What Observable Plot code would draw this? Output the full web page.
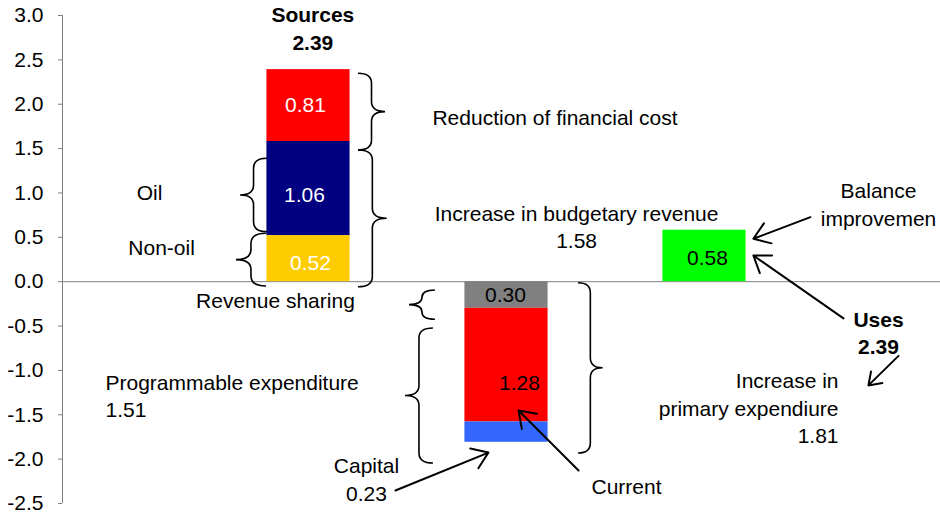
<!DOCTYPE html>
<html><head><meta charset="utf-8">
<script src="https://cdn.jsdelivr.net/npm/d3@7"></script>
<script src="https://cdn.jsdelivr.net/npm/@observablehq/plot@0.6"></script>
<style>
html,body{margin:0;padding:0;background:#fff;overflow:hidden}
#chart svg g[aria-label^="y-axis"] line,#chart svg g[aria-label^="y-axis"] path{stroke:#808080}
</style></head><body><div id="chart"></div>
<script>
// ---- data ----
const categories = ["Sources", "Uses", "Balance"];
const sourcesParts = ["Non-oil", "Oil", "Reduction of financial cost"];
const sourcesValues = [0.52, 1.06, 0.81];
const usesParts = ["Revenue sharing", "Current", "Capital"];
const usesValues = [0.30, 1.28, 0.23];
const balanceParts = ["Balance improvement"];
const balanceValues = [0.58];
const sourcesTotal = 2.39;
const usesTotal = 2.39;
const budgetaryRevenue = 1.58;
const programmableExp = 1.51;
const primaryExp = 1.81;
const yTicks = [3.0, 2.5, 2.0, 1.5, 1.0, 0.5, 0.0, -0.5, -1.0, -1.5, -2.0, -2.5];

// ---- styles ----
const partColors = {
  "Non-oil": "#FFCC00", "Oil": "#000080", "Reduction of financial cost": "#FF0000",
  "Revenue sharing": "#808080", "Current": "#FF0000", "Capital": "#3366FF",
  "Balance improvement": "#00FF00"
};
const labelColors = {"Sources": "white", "Uses": "black", "Balance": "black"};
// label nudges in pixels [dx, dy]; Capital has no in-bar label
const labelNudge = {
  "Non-oil": [2, 5], "Oil": [-4, 7], "Reduction of financial cost": [-3, 0],
  "Revenue sharing": [-1, 0], "Current": [13, 18], "Balance improvement": [3, 2]
};

// ---- build stacked rows ----
function stack(cat, parts, values, sign) {
  let acc = 0;
  return parts.map((p, i) => {
    const y1 = acc; acc += sign * values[i];
    return {cat, pos: categories.indexOf(cat) + 1, part: p, value: values[i], y1, y2: acc};
  });
}
const rows = [
  ...stack("Sources", sourcesParts, sourcesValues, 1),
  ...stack("Uses", usesParts, usesValues, -1),
  ...stack("Balance", balanceParts, balanceValues, 1)
];
const halfBar = 0.21;
const labelled = rows.filter(d => d.part in labelNudge);

// ---- annotations (positions in data units) ----
const notes = [
  {text: `Reduction of financial cost`, x: 1.626, y: 1.839, anchor: "start"},
  {text: `Increase in budgetary revenue\n${budgetaryRevenue.toFixed(2)}`, x: 2.354, y: 0.607, anchor: "middle"},
  {text: "Oil", x: 0.197, y: 0.994, anchor: "middle"},
  {text: "Non-oil", x: 0.258, y: 0.374, anchor: "middle"},
  {text: "Revenue sharing", x: 0.833, y: -0.223, anchor: "middle"},
  {text: `Programmable expenditure\n${programmableExp.toFixed(2)}`, x: -0.0253, y: -1.299, anchor: "start"},
  {text: `Capital\n${usesValues[2].toFixed(2)}`, x: 1.293, y: -2.238, anchor: "middle"},
  {text: "Current", x: 2.606, y: -2.319, anchor: "middle"},
  {text: "Balance\nimprovemen", x: 3.879, y: 0.861, anchor: "middle"},
  {text: `Increase in\nprimary expendiure\n${primaryExp.toFixed(2)}`, x: 3.677, y: -1.435, anchor: "end"}
];
const boldNotes = [
  {text: `Sources\n${sourcesTotal.toFixed(2)}`, x: 1.022, y: 2.844},
  {text: `Uses\n${usesTotal.toFixed(2)}`, x: 3.879, y: -0.587}
];
const braces = [
  {base: 1.2525, tip: 1.389, top: 2.343, bottom: 1.479},
  {base: 1.2525, tip: 1.3975, top: 1.479, bottom: -0.062},
  {base: 0.793, tip: 0.657, top: 1.385, bottom: 0.558},
  {base: 0.788, tip: 0.636, top: 0.540, bottom: -0.054},
  {base: 1.641, tip: 1.510, top: -0.099, bottom: -0.429},
  {base: 1.631, tip: 1.490, top: -0.527, bottom: -2.049},
  {base: 2.364, tip: 2.488, top: -0.017, bottom: -1.936}
];
const arrows = [
  {x1: 3.535, y1: 0.727, x2: 3.247, y2: 0.484},
  {x1: 3.702, y1: -0.414, x2: 3.247, y2: 0.295},
  {x1: 3.980, y1: -0.836, x2: 3.828, y2: -1.169},
  {x1: 1.439, y1: -2.353, x2: 1.909, y2: -1.926},
  {x1: 2.364, y1: -2.128, x2: 2.061, y2: -1.452}
];

function braceMark(list) {
  return (index, scales) => {
    const {x, y} = scales;
    const g = d3.create("svg:g").attr("fill", "none").attr("stroke", "black").attr("stroke-width", 1.6);
    for (const b of list) {
      const x0 = x(b.base), x1 = x(b.tip), yT = y(b.top), yB = y(b.bottom);
      const yM = (yT + yB) / 2, xm = (x0 + x1) / 2;
      const r = Math.min(10, (yB - yT) / 4);
      g.append("path").attr("d",
        `M${x0},${yT}Q${xm},${yT} ${xm},${yT + r}L${xm},${yM - r}Q${xm},${yM} ${x1},${yM}` +
        `Q${xm},${yM} ${xm},${yM + r}L${xm},${yB - r}Q${xm},${yB} ${x0},${yB}`);
    }
    return g.node();
  };
}

const FS = 21, LH = 1.31, NOTE_DY = -2;
const font = "Liberation Sans, Arial, Helvetica, sans-serif";
const chart = Plot.plot({
  width: 940, height: 514,
  marginLeft: 62, marginRight: 0, marginTop: 15, marginBottom: 11,
  style: {fontFamily: font, fontSize: FS + "px", color: "black", background: "white", overflow: "hidden"},
  x: {domain: [-0.2424, 4.192], axis: null},
  y: {domain: [-2.5, 3], ticks: yTicks, tickFormat: d => d.toFixed(1), tickSize: 4, tickPadding: 15, label: null},
  marks: [
    Plot.ruleY([0], {stroke: "#808080", strokeWidth: 1}),
    Plot.ruleX([-0.2424], {stroke: "#808080", strokeWidth: 1}),
    Plot.rectY(rows, {x1: d => d.pos - halfBar, x2: d => d.pos + halfBar, y1: "y1", y2: "y2",
      fill: d => partColors[d.part]}),
    ...labelled.map(d => Plot.text([d], {x: "pos", y: r => (r.y1 + r.y2) / 2, text: r => r.value.toFixed(2),
      fill: labelColors[d.cat], fontSize: FS, dx: labelNudge[d.part][0], dy: labelNudge[d.part][1]})),
    braceMark(braces),
    Plot.arrow(arrows, {x1: "x1", y1: "y1", x2: "x2", y2: "y2", stroke: "black", strokeWidth: 2,
      headLength: 14, headAngle: 70}),
    ...["start", "middle", "end"].map(a => Plot.text(notes.filter(n => n.anchor === a),
      {x: "x", y: "y", text: "text", textAnchor: a, fontSize: FS, lineHeight: LH, fill: "black", dy: NOTE_DY})),
    Plot.text(boldNotes, {x: "x", y: "y", text: "text", fontSize: FS, fontWeight: "bold", lineHeight: LH, fill: "black", dy: NOTE_DY})
  ]
});
document.getElementById("chart").appendChild(chart);
</script></body></html>
